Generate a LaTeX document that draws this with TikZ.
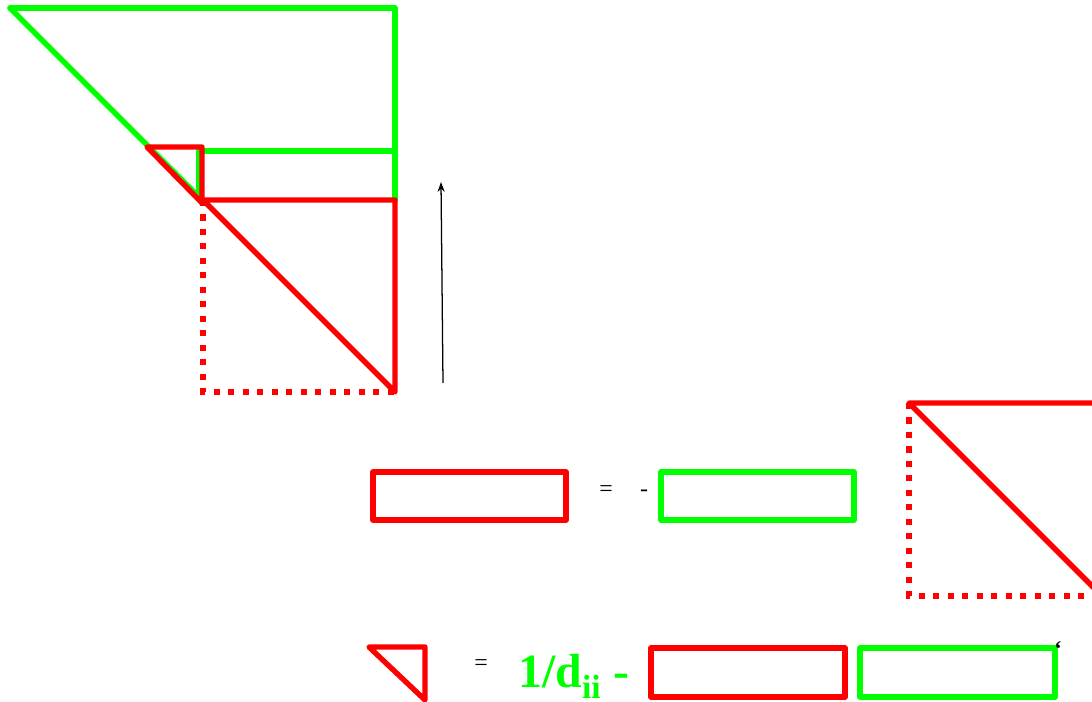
\documentclass[tikz,border=0pt]{standalone}
\usepackage{fontspec}
\setmainfont{Liberation Serif}
\usetikzlibrary{arrows.meta}

\begin{document}
\begin{tikzpicture}[
    x=0.025cm, y=-0.025cm,
    % Block outlines
    upper/.style={draw=green, line width=3.8pt, line join=round, line cap=round},
    lower/.style={draw=red, line width=3.8pt, line join=round, line cap=round},
    hidden/.style={draw=red, line width=3.8pt, dash pattern=on 4.3pt off 6pt},
    % Arrow and labels
    sweep/.style={-{Stealth[length=7pt, width=5pt]}, line width=0.9pt},
    sign/.style={font=\fontsize{17}{20}\selectfont, inner sep=0pt},
    coef/.style={text=green, font=\fontsize{34}{40}\selectfont\bfseries, inner sep=0pt, text depth=0pt}
]
\useasboundingbox (0,0) rectangle (1092,702);

% 1. Upper triangle (done part)
\draw[upper] (10,8) -- (395,8) -- (395,200);
\draw[upper] (10,8) -- (200,198);
\draw[upper] (199,200) -- (199,151) -- (395,151);

% 2. Diagonal entry and lower block
\draw[lower] (147,147) -- (202,147) -- (202,203) -- cycle;
\draw[hidden] (203,200) -- (203,392) -- (395,392);
\draw[lower] (203,200) -- (395,200) -- (395,392) -- cycle;

% Direction of the sweep
\coordinate (sweepfoot) at (443,383);
\coordinate (sweephead) at (441,182);
\draw[sweep] (sweepfoot) -- (sweephead);

% 3. Row update
\draw[lower] (373,472) rectangle (566,520);
\node[sign, anchor=base] (eqrow) at (606,496) {=};
\node[sign, anchor=base] (negrow) at (644,496) {-};
\draw[upper] (661,472) rectangle (854,520);
\begin{scope}
    \clip (0,0) rectangle (1092,702);
    \draw[hidden] (909,403) -- (909,596) -- (1102,596);
    \draw[lower] (909,403) -- (1102,403) -- (1102,596) -- cycle;
\end{scope}

% 4. Diagonal update
\draw[lower] (369,647) -- (425,647) -- (425,700) -- cycle;
\node[sign, anchor=base] (eqdiag) at (481,670) {=};
\node[coef, anchor=base west] (invd) at (518,687) {1/d\textsubscript{ii} -};
\draw[lower] (651,648) rectangle (845,697);
\draw[upper] (860,648) rectangle (1055,697);
\node[sign, font=\fontsize{16}{18}\selectfont\bfseries] (tick) at (1058,649) {`};

\end{tikzpicture}
\end{document}
